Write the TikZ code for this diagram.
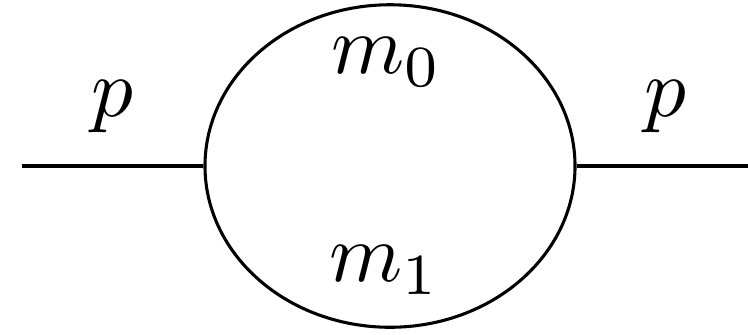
\documentclass[tikz,border=0pt]{standalone}
\usetikzlibrary{shapes.geometric}
\begin{document}
\begin{tikzpicture}[x=0.12pt,y=-0.12pt,
  lbl/.style={inner sep=0pt},
  prop/.style={line width=0.37pt}]
\useasboundingbox (0,0) rectangle (748,334);
\node[ellipse,draw,prop,inner sep=0pt,minimum width=44.4pt,minimum height=38.7pt] (loop) at (390,166) {};
\coordinate (L) at (22,166);
\coordinate (R) at (748,166);
\draw[prop] (L) -- (loop.west);
\draw[prop] (loop.east) -- (R);
\node[lbl] (pl) at (112,107) {$p$};
\node[lbl] (pr) at (665,107) {$p$};
\node[lbl] (m0) at (387,62) {$m_0$};
\node[lbl] (m1) at (385,270) {$m_1$};
\end{tikzpicture}
\end{document}
